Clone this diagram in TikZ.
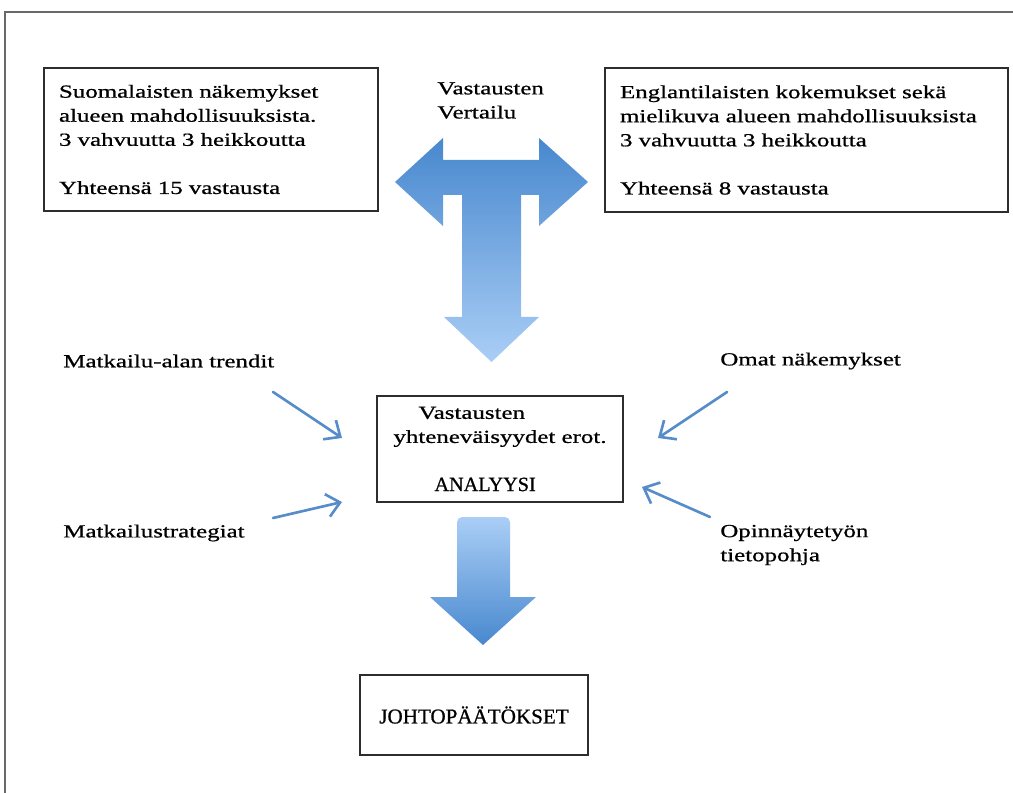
\documentclass[tikz,border=0pt]{standalone}
\usepackage{fontspec}
\setmainfont[FakeStretch=1.35,FakeBold=0.8]{Liberation Serif}
\newfontfamily\capsfont[FakeBold=0.8]{Liberation Serif}
\usetikzlibrary{arrows.meta,positioning,shadows}
\definecolor{frameGrey}{RGB}{105,105,105}
\definecolor{boxBlack}{RGB}{45,45,45}
\definecolor{feedBlue}{RGB}{86,140,202}
\definecolor{bigDark}{RGB}{72,136,206}
\definecolor{bigLight}{RGB}{170,206,246}
\tikzset{
  txt/.style    ={font=\fontsize{10.5pt}{13.7pt}\selectfont, inner sep=0pt},
  infobox/.style={txt, rectangle, draw=boxBlack, line width=0.9pt, fill=white,
                  align=left, inner xsep=0.3cm,
                  drop shadow={shadow xshift=0.8pt, shadow yshift=-0.8pt,
                               fill=black, opacity=0.25}},
  sidetext/.style={txt, align=left},
  capsword/.style={font=\capsfont\fontsize{12pt}{14pt}\selectfont},
  frameline/.style={frameGrey, line width=1.3pt},
  feed/.style   ={-{Straight Barb[length=2.6mm,width=4.6mm]}, line width=1.5pt,
                  feedBlue, line cap=round},
  bigT/.style   ={top color=bigDark, bottom color=bigLight},
  bigDown/.style={top color=bigLight, bottom color=bigDark},
}

\begin{document}
\begin{tikzpicture}[x=0.02cm, y=-0.02cm]
  \useasboundingbox (0,0) rectangle (1013,793);
  \draw[frameline] (1013,12) -- (5,12) -- (5,793);

  % answer boxes
  \node[infobox, minimum width=6.68cm, minimum height=2.86cm, text width=6.08cm]
    (fin) at (211,139.5) {Suomalaisten näkemykset\\ alueen mahdollisuuksista.\\
      3 vahvuutta 3 heikkoutta\\[13.7pt] Yhteensä 15 vastausta};
  \node[infobox, minimum width=8.06cm, minimum height=2.88cm, text width=7.46cm]
    (eng) at (806.5,140) {Englantilaisten kokemukset sekä\\ mielikuva alueen mahdollisuuksista\\
      3 vahvuutta 3 heikkoutta\\[13.7pt] Yhteensä 8 vastausta};
  \node[sidetext, anchor=west] (vert) at (437,100.5) {Vastausten\\ Vertailu};

  % comparison arrow
  \shade[bigT] (395,182) -- (443,138) -- (443,160) -- (539,160) -- (539,138)
    -- (588,182) -- (539,226) -- (539,195) -- (521,195) -- (521,317) -- (539,317)
    -- (491.5,362) -- (444,317) -- (462,317) -- (462,195) -- (443,195)
    -- (443,226) -- cycle;

  % analysis
  \node[infobox, align=left, inner xsep=0pt, minimum width=4.92cm, minimum height=2.12cm]
    (anal) at (500,449) {\hspace*{0.5cm}Vastausten\\ yhteneväisyydet erot.\\[13.7pt]
      \hspace*{0.82cm}{\capsfont\fontsize{11.5pt}{13.7pt}\selectfont ANALYYSI}};
  \node[sidetext, anchor=west] (trend) at (63,361) {Matkailu-alan trendit};
  \node[sidetext, anchor=west] (strat) at (63,533) {Matkailustrategiat};
  \node[sidetext, anchor=west] (omat)  at (720,361) {Omat näkemykset};
  \node[sidetext, anchor=west] (tieto) at (720,545) {Opinnäytetyön\\ tietopohja};

  \coordinate (trendA) at (273,392); \coordinate (trendB) at (342,438);
  \coordinate (stratA) at (273,518); \coordinate (stratB) at (342,502);
  \coordinate (omatA)  at (727,392); \coordinate (omatB)  at (658,438);
  \coordinate (tietoA) at (710,517); \coordinate (tietoB) at (642,487);
  \foreach \s in {trend,strat,omat,tieto} {\draw[feed] (\s A) -- (\s B);}

  % conclusions
  \shade[bigDown] (510,560) [rounded corners=3pt] -- (510,517) -- (457,517)
    -- (457,560) [sharp corners] -- (457,597) -- (430,597) -- (483,645)
    -- (536,597) -- (510,597) -- cycle;
  \node[infobox, capsword, align=center, inner xsep=0pt, minimum width=4.56cm,
    minimum height=1.6cm] (johto) at (474,715) {JOHTOPÄÄTÖKSET};
\end{tikzpicture}
\end{document}
